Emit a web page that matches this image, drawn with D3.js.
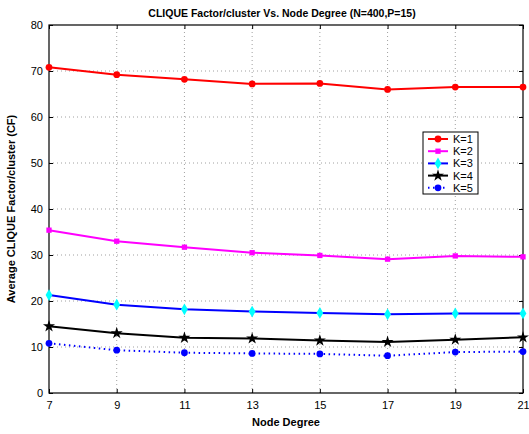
<!DOCTYPE html>
<html>
<head>
<meta charset="utf-8">
<script src="https://cdn.jsdelivr.net/npm/d3@7"></script>
<style>
  body { margin: 0; background: #fff; }
  text { font-family: "Liberation Sans", Arial, sans-serif; }
</style>
</head>
<body>
<div id="vis"></div>
<script>
let W = 529; // width
let H = 434; // height
let M = { left: 49, right: 6, top: 25, bottom: 41 }; // margins

// data
let degrees = [7, 9, 11, 13, 15, 17, 19, 21];
let yTicks = [0, 10, 20, 30, 40, 50, 60, 70, 80];
let seriesNames = ['K=1', 'K=2', 'K=3', 'K=4', 'K=5'];
let k1 = [70.8, 69.2, 68.2, 67.2, 67.3, 66.0, 66.5, 66.5];
let k2 = [35.4, 33.0, 31.7, 30.5, 29.9, 29.1, 29.8, 29.6];
let k3 = [21.3, 19.2, 18.2, 17.7, 17.4, 17.1, 17.3, 17.3];
let k4 = [14.5, 13.0, 12.0, 11.85, 11.4, 11.1, 11.6, 12.1];
let k5 = [10.8, 9.3, 8.75, 8.6, 8.5, 8.1, 8.9, 9.0];

let series = [
  { name: seriesNames[0], values: k1, line: 'red', marker: 'red', symbol: d3.symbolCircle, size: 36, dash: null },
  { name: seriesNames[1], values: k2, line: '#ff00ff', marker: '#ff00ff', symbol: d3.symbolSquare, size: 28, dash: null },
  { name: seriesNames[2], values: k3, line: 'blue', marker: 'cyan', symbol: d3.symbolDiamond, size: 40, dash: null },
  { name: seriesNames[3], values: k4, line: 'black', marker: 'black', symbol: d3.symbolStar, size: 45, dash: null },
  { name: seriesNames[4], values: k5, line: 'blue', marker: 'blue', symbol: d3.symbolCircle, size: 36, dash: '1.5,3.5' }
];

let svg = d3.select('#vis').append('svg').attr('width', W).attr('height', H);

let x = d3.scaleLinear().domain([7, 21]).range([M.left, W - M.right]);
let y = d3.scaleLinear().domain([0, 80]).range([H - M.bottom, M.top]);

// Dotted grid lines
let grid = svg.append('g').attr('stroke', '#888').attr('stroke-dasharray', '1,3').attr('stroke-width', 0.8);
grid.selectAll('.gx').data(degrees.slice(1, -1)).enter().append('line')
    .attr('x1', d => x(d)).attr('x2', d => x(d))
    .attr('y1', y(0)).attr('y2', y(80));
grid.selectAll('.gy').data(yTicks.slice(1, -1)).enter().append('line')
    .attr('x1', x(7)).attr('x2', x(21))
    .attr('y1', d => y(d)).attr('y2', d => y(d));

// Axes with inward ticks, MATLAB style
let axisStyle = g => {
  g.select('.domain').remove();
  g.selectAll('text').attr('font-size', 11).attr('fill', '#000');
  g.selectAll('line').attr('stroke', '#000');
};
svg.append('g').attr('transform', `translate(0, ${y(0)})`)
    .call(d3.axisBottom(x).tickValues(degrees).tickSizeInner(-4).tickSizeOuter(0).tickPadding(8))
    .call(axisStyle);
svg.append('g').attr('transform', `translate(${x(7)}, 0)`)
    .call(d3.axisLeft(y).tickValues(yTicks).tickSizeInner(-4).tickSizeOuter(0).tickPadding(6))
    .call(axisStyle);
svg.append('g').attr('transform', `translate(0, ${y(80)})`)
    .call(d3.axisTop(x).tickValues(degrees).tickSizeInner(-4).tickSizeOuter(0).tickFormat(''))
    .call(axisStyle);
svg.append('g').attr('transform', `translate(${x(21)}, 0)`)
    .call(d3.axisRight(y).tickValues(yTicks).tickSizeInner(-4).tickSizeOuter(0).tickFormat(''))
    .call(axisStyle);

// Plot frame
svg.append('rect')
    .attr('x', x(7)).attr('y', y(80))
    .attr('width', x(21) - x(7)).attr('height', y(0) - y(80))
    .attr('fill', 'none').attr('stroke', '#000').attr('stroke-width', 1.2);

// Lines and markers
let line = d3.line().x((d, i) => x(degrees[i])).y(d => y(d));
series.forEach(s => {
  svg.append('path').datum(s.values)
      .attr('d', line)
      .attr('fill', 'none')
      .attr('stroke', s.line)
      .attr('stroke-width', 2)
      .attr('stroke-dasharray', s.dash);
  svg.selectAll(null).data(s.values).enter().append('path')
      .attr('transform', (d, i) => `translate(${x(degrees[i])}, ${y(d)})`)
      .attr('d', d3.symbol().type(s.symbol).size(s.size))
      .attr('fill', s.marker);
});

// Legend
let lg = svg.append('g').attr('transform', 'translate(423, 132)');
lg.append('rect').attr('width', 55).attr('height', 62)
    .attr('fill', '#fff').attr('stroke', '#000').attr('stroke-width', 1);
series.forEach((s, i) => {
  let cy = 7 + i * 12.2;
  lg.append('line').attr('x1', 5).attr('x2', 25).attr('y1', cy).attr('y2', cy)
      .attr('stroke', s.line).attr('stroke-width', 2).attr('stroke-dasharray', s.dash);
  lg.append('path').attr('transform', `translate(15, ${cy})`)
      .attr('d', d3.symbol().type(s.symbol).size(s.size)).attr('fill', s.marker);
  lg.append('text').attr('x', 30).attr('y', cy + 4).attr('font-size', 11).text(s.name);
});

// Titles
svg.append('text').attr('x', 282).attr('y', 17)
    .attr('text-anchor', 'middle').attr('font-size', 10.5).attr('font-weight', 'bold')
    .text('CLIQUE Factor/cluster Vs. Node Degree (N=400,P=15)');
svg.append('text').attr('x', (M.left + W - M.right) / 2).attr('y', 426)
    .attr('text-anchor', 'middle').attr('font-size', 11).attr('font-weight', 'bold')
    .text('Node Degree');
svg.append('text')
    .attr('transform', `translate(15, ${(y(0) + y(80)) / 2}) rotate(-90)`)
    .attr('text-anchor', 'middle').attr('font-size', 11).attr('font-weight', 'bold')
    .text('Average CLIQUE Factor/cluster (CF)');
</script>
</body>
</html>
